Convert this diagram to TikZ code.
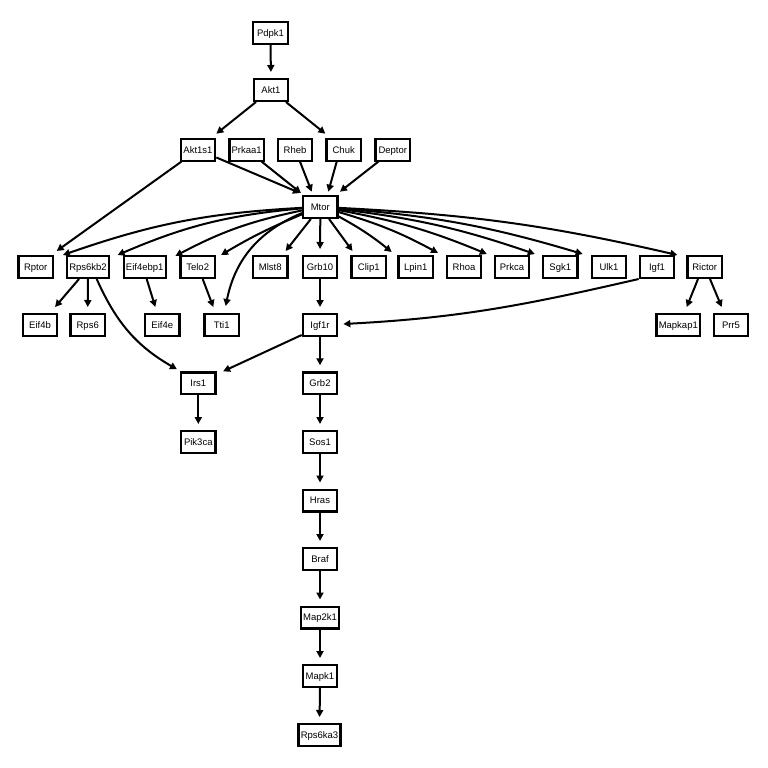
\documentclass[tikz,border=0pt]{standalone}
\usepackage{fontspec}
\setmainfont{Liberation Sans}
\usetikzlibrary{arrows.meta}
\begin{document}
\begin{tikzpicture}[x=1pt,y=-1pt,
  gene/.style={draw=black, line width=2.2pt, fill=white, minimum width=34.5pt,
    minimum height=21.8pt, inner xsep=2.2pt, inner ysep=1pt,
    text height=6.8pt, text depth=0pt,
    font=\fontsize{9.5}{10}\selectfont},
  edge/.style={line width=2pt, -{Triangle[length=7pt,width=7pt]}},
  gap/.style={edge, shorten >=6pt}]
\useasboundingbox (0,0) rectangle (768,768);
% nodes
\node[gene] (Pdpk1) at (270.5,33) {Pdpk1};
\node[gene] (Akt1) at (271,90) {Akt1};
\node[gene] (Akt1s1) at (198,149.7) {Akt1s1};
\node[gene] (Prkaa1) at (246.7,149.7) {Prkaa1};
\node[gene] (Rheb) at (295,149.7) {Rheb};
\node[gene] (Chuk) at (343.7,149.7) {Chuk};
\node[gene] (Deptor) at (392.8,149.7) {Deptor};
\node[gene] (Mtor) at (320.3,207) {Mtor};
\node[gene] (Rptor) at (35.7,267) {Rptor};
\node[gene] (Rps6kb2) at (88,267) {Rps6kb2};
\node[gene] (Eif4ebp1) at (144.7,267) {Eif4ebp1};
\node[gene] (Telo2) at (197.7,267) {Telo2};
\node[gene] (Mlst8) at (270.3,267) {Mlst8};
\node[gene] (Grb10) at (320,267) {Grb10};
\node[gene] (Clip1) at (368.8,267) {Clip1};
\node[gene] (Lpin1) at (415.7,267) {Lpin1};
\node[gene] (Rhoa) at (464,267) {Rhoa};
\node[gene] (Prkca) at (512,267) {Prkca};
\node[gene] (Sgk1) at (560.3,267) {Sgk1};
\node[gene] (Ulk1) at (609,267) {Ulk1};
\node[gene] (Igf1) at (657,267) {Igf1};
\node[gene] (Rictor) at (704.7,267) {Rictor};
\node[gene] (Eif4b) at (40,325) {Eif4b};
\node[gene] (Rps6) at (87.7,325) {Rps6};
\node[gene] (Eif4e) at (162.3,325) {Eif4e};
\node[gene] (Tti1) at (221.7,325) {Tti1};
\node[gene] (Igf1r) at (320,325) {Igf1r};
\node[gene] (Mapkap1) at (678.3,325) {Mapkap1};
\node[gene] (Prr5) at (731,325) {Prr5};
\node[gene] (Irs1) at (198.3,383.3) {Irs1};
\node[gene] (Grb2) at (320,383.3) {Grb2};
\node[gene] (Pik3ca) at (198.3,442) {Pik3ca};
\node[gene] (Sos1) at (320,442) {Sos1};
\node[gene] (Hras) at (320,500.5) {Hras};
\node[gene] (Braf) at (320,559) {Braf};
\node[gene] (Map2k1) at (320,617.5) {Map2k1};
\node[gene] (Mapk1) at (320,676) {Mapk1};
\node[gene] (Rps6ka3) at (319.5,735) {Rps6ka3};
% upper edges
\draw[gap] (Pdpk1.south) -- (Akt1.north);
\draw[edge] (Akt1) -- ([yshift=4pt]Akt1s1.north east);
\draw[edge] (Akt1) -- ([yshift=4pt]Chuk.north west);
\draw[edge] (Akt1s1) -- ([shift={(-2pt,2pt)}]Mtor.north west);
\draw[edge] (Prkaa1) -- ([shift={(-1pt,2pt)}]Mtor.north west);
\draw[edge] ([xshift=5pt]Rheb.south) -- ([shift={(-8.6pt,3.3pt)}]Mtor.north);
\draw[edge] ([xshift=-7pt]Chuk.south) -- ([shift={(8pt,3.3pt)}]Mtor.north);
\draw[edge] ([xshift=-14.5pt]Deptor.south) -- ([shift={(1.3pt,3.3pt)}]Mtor.north east);
\draw[edge] (Akt1s1) -- ([shift={(2.6pt,4pt)}]Rptor.north east);
% Mtor fan
\draw[edge] (Mtor) to[bend right=8] ([xshift=-3pt]Rps6kb2.north west);
\draw[edge] (Mtor) to[bend right=9] ([xshift=-5pt]Eif4ebp1.north west);
\draw[edge] (Mtor) to[bend right=8] ([shift={(-4pt,-1pt)}]Telo2.north west);
\draw[edge] (Mtor) to[bend right=4] ([xshift=5pt]Telo2.north east);
\draw[edge] (Mtor) to[bend right=28] ([shift={(4pt,7pt)}]Tti1.north);
\draw[edge] (Mtor) -- ([shift={(-3pt,4pt)}]Mlst8.north east);
\draw[gap] (Mtor.south) -- (Grb10.north);
\draw[edge] (Mtor) -- ([shift={(2pt,4pt)}]Clip1.north west);
\draw[edge] (Mtor) to[bend left=5] ([shift={(4.5pt,3pt)}]Clip1.north east);
\draw[edge] (Mtor) to[bend left=6] ([shift={(4pt,2pt)}]Lpin1.north east);
\draw[edge] (Mtor) to[bend left=6] ([shift={(4.5pt,1pt)}]Rhoa.north east);
\draw[edge] (Mtor) to[bend left=6] ([shift={(4.5pt,1pt)}]Prkca.north east);
\draw[edge] (Mtor) to[bend left=6] ([shift={(4pt,1pt)}]Sgk1.north east);
\draw[edge] (Mtor) to[bend left=5] ([xshift=2pt]Igf1.north east);
% row 3 -> row 4
\draw[edge] ([xshift=-9pt]Rps6kb2.south) -- ([shift={(-3.3pt,6pt)}]Eif4b.north east);
\draw[gap] (Rps6kb2.south) -- (Rps6.north);
\draw[edge] ([xshift=8.7pt]Rps6kb2.south) to[out=-66,in=150] ([shift={(-3pt,2pt)}]Irs1.north west);
\draw[edge] ([xshift=2pt]Eif4ebp1.south) -- ([shift={(-7pt,6pt)}]Eif4e.north);
\draw[edge] ([xshift=5pt]Telo2.south) -- ([shift={(-8.4pt,6pt)}]Tti1.north);
\draw[gap] (Grb10.south) -- (Igf1r.north);
\draw[edge] (Igf1.south west) to[out=193,in=3] ([shift={(5pt,1pt)}]Igf1r.east);
\draw[edge] ([xshift=-6.7pt]Rictor.south) -- ([shift={(8.4pt,6pt)}]Mapkap1.north);
\draw[edge] ([xshift=5.3pt]Rictor.south) -- ([shift={(-9.3pt,6pt)}]Prr5.north);
% lower chain
\draw[edge] ([yshift=2pt]Igf1r.south west) -- ([xshift=6.5pt]Irs1.north east);
\draw[gap] (Igf1r.south) -- (Grb2.north);
\draw[gap] (Irs1.south) -- (Pik3ca.north);
\draw[gap] (Grb2.south) -- (Sos1.north);
\draw[gap] (Sos1.south) -- (Hras.north);
\draw[gap] (Hras.south) -- (Braf.north);
\draw[gap] (Braf.south) -- (Map2k1.north);
\draw[gap] (Map2k1.south) -- (Mapk1.north);
\draw[gap] (Mapk1.south) -- (Rps6ka3.north);
\end{tikzpicture}
\end{document}
